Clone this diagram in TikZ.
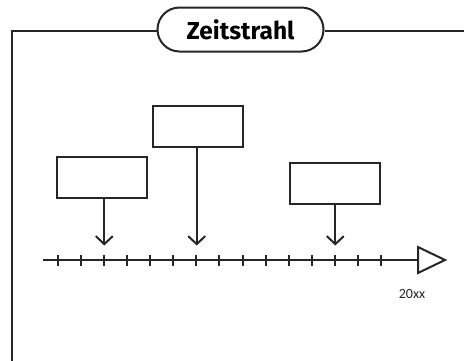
\documentclass[tikz,border=0pt]{standalone}
\usepackage{fontspec}
\setmainfont{Carlito}
\newfontfamily\titlefont{Fira Sans}
\usetikzlibrary{arrows.meta}
\begin{document}
\begin{tikzpicture}[x=1pt,y=-1pt,
  framel/.style={line width=2pt,draw=black!85},
  pill/.style={draw=black!85,line width=2pt,rounded corners=22pt,minimum width=166pt,minimum height=44pt,inner sep=0pt,fill=white,font=\titlefont\bfseries\fontsize{24.5}{26}\selectfont},
  evbox/.style={draw=black!85,line width=2pt,minimum width=90pt,minimum height=41pt,inner sep=0pt},
  evarrow/.style={draw=black!85,line width=2pt,-{Straight Barb[length=8pt,width=17pt,line width=2pt]}},
  tline/.style={draw=black!85,line width=2pt},
  tick/.style={draw=black!85,line width=2pt},
  head/.style={draw=black!85,line width=2pt,fill=white},
  lbl/.style={font=\fontsize{14}{16}\selectfont,text=black!85,inner sep=0pt}]
\useasboundingbox (0,0) rectangle (464,360);
% frame and title
\node[pill] (title) at (240.5,29.5) {Zeitstrahl};
\coordinate (fl) at (12,365);
\coordinate (fr) at (470,31);
\draw[framel] (title.west |- 0,31) -| (fl);
\draw[framel] (title.east |- 0,31) -- (fr);
% timeline
\coordinate (ts) at (43,260);
\coordinate (te) at (418,260);
\draw[tline] (ts) -- (te);
\foreach \i in {0,...,14} {
  \draw[tick] (57.7+\i*23.1,255) -- (57.7+\i*23.1,265.5);
}
\draw[head] (418,247) -- (445,260) -- (418,273) -- cycle;
\node[lbl] (year) at (412,294) {20xx};
% event boxes
\node[evbox] (b1) at (102.3,177.2) {};
\node[evbox] (b2) at (197.5,126) {};
\node[evbox] (b3) at (334.5,183.5) {};
\coordinate (a1) at (104.3,245.5);
\coordinate (a2) at (196.7,245.5);
\coordinate (a3) at (335.3,245.5);
\draw[evarrow] (b1.south -| a1) -- (a1);
\draw[evarrow] (b2.south -| a2) -- (a2);
\draw[evarrow] (b3.south -| a3) -- (a3);
\end{tikzpicture}
\end{document}
